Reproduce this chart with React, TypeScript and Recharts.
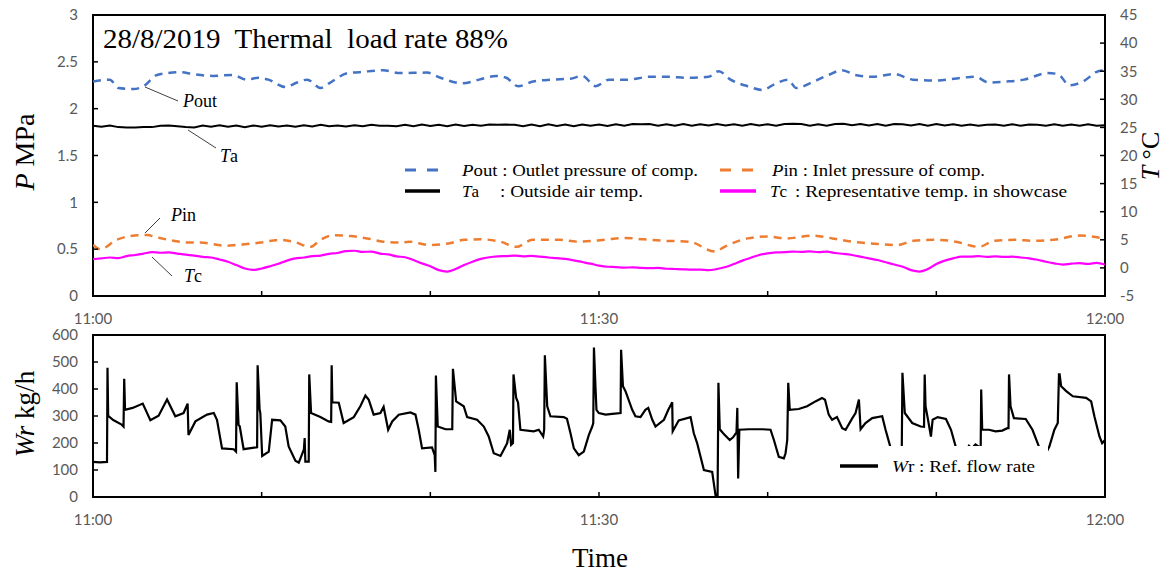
import React from 'react';
import { LineChart, Line, XAxis, YAxis, ReferenceArea, Legend } from 'recharts';

// ---------- ticks ----------
const timeTicks = [0, 10, 20, 30, 40, 50, 60];
const timeLabels: Record<number, string> = { 0: '11:00', 30: '11:30', 60: '12:00' };
const pTicks = [0, 0.5, 1, 1.5, 2, 2.5, 3];
const tTicks = [-5, 0, 5, 10, 15, 20, 25, 30, 35, 40, 45];
const wTicks = [0, 100, 200, 300, 400, 500, 600];

// ---------- series (t = minutes after 11:00) ----------
const poutSeries: [number, number][] = [
  [0, 2.29], [1.0, 2.31], [1.5, 2.22], [2.4, 2.21], [3.0, 2.24], [3.8, 2.36], [5.2, 2.39], [5.9, 2.37],
  [7.1, 2.35], [8.3, 2.36], [9.1, 2.31], [9.8, 2.33], [10.4, 2.31], [11.4, 2.23], [12.1, 2.28], [12.7, 2.31],
  [13.5, 2.22], [14.0, 2.27], [15.1, 2.38], [15.8, 2.39], [17.2, 2.41], [18.2, 2.38], [19.8, 2.385], [20.6, 2.33],
  [21.9, 2.27], [22.9, 2.31], [23.9, 2.35], [24.5, 2.33], [25.2, 2.24], [26.1, 2.29], [27.2, 2.31], [28.3, 2.32],
  [29.0, 2.35], [29.8, 2.24], [30.6, 2.31], [31.7, 2.31], [33.0, 2.34], [34.1, 2.34], [35.2, 2.33], [36.5, 2.34],
  [37.1, 2.40], [37.8, 2.31], [38.8, 2.24], [39.7, 2.20], [40.4, 2.26], [41.2, 2.31], [41.7, 2.22], [42.5, 2.27],
  [43.6, 2.36], [44.4, 2.41], [45.2, 2.36], [46.2, 2.34], [47.5, 2.37], [48.6, 2.31], [50.0, 2.30], [51.5, 2.33],
  [52.3, 2.34], [53.1, 2.28], [54.2, 2.29], [55.2, 2.31], [56.6, 2.38], [57.2, 2.37], [57.9, 2.25], [58.7, 2.29],
  [59.6, 2.40], [60, 2.41],
];

const pinSeries: [number, number][] = [
  [0, 0.545], [0.43, 0.5], [1.41, 0.6], [2.8, 0.65], [3.2, 0.65], [3.79, 0.626], [4.76, 0.59], [5.57, 0.57],
  [6.36, 0.57], [7.9, 0.535], [8.5, 0.545], [9.92, 0.57], [11.1, 0.6], [11.88, 0.58], [12.89, 0.525], [13.5, 0.6],
  [14.25, 0.65], [15.26, 0.64], [16.25, 0.615], [17.2, 0.58], [18.2, 0.57], [18.76, 0.58], [19.89, 0.545],
  [21.07, 0.56], [22.02, 0.6], [22.97, 0.605], [24.16, 0.58], [25.1, 0.525], [26.06, 0.6], [27.6, 0.6],
  [28.8, 0.58], [30.33, 0.6], [31.48, 0.62], [32.64, 0.605], [33.8, 0.59], [35.34, 0.58], [36.89, 0.475],
  [37.44, 0.525], [38.81, 0.615], [39.97, 0.635], [41.12, 0.615], [42.66, 0.645], [43.83, 0.615], [44.98, 0.58],
  [46.16, 0.56], [47.7, 0.545], [48.65, 0.59], [50.02, 0.6], [51.15, 0.58], [52.51, 0.525], [53.46, 0.59],
  [54.64, 0.6], [55.77, 0.59], [56.96, 0.6], [58.5, 0.645], [60, 0.61],
];

const taSeries: [number, number][] = [
  [0, 25.3], [0.5, 25.1], [1, 25.35], [1.5, 25.05], [2, 25.0], [2.5, 25.0], [3, 25.05], [3.5, 25.05], [4, 25.3],
  [4.5, 25.35], [5, 25.2], [5.5, 25.05], [6, 25.0], [6.5, 25.35], [7, 25.1], [7.5, 25.4], [8, 25.1], [8.5, 25.35],
  [9, 25.05], [9.5, 25.35], [10, 25.1], [10.5, 25.4], [11, 25.15], [11.5, 25.35], [12, 25.1], [12.5, 25.4],
  [13, 25.15], [13.5, 25.45], [14, 25.2], [14.5, 25.35], [15, 25.15], [15.5, 25.4], [16, 25.2], [16.5, 25.45],
  [17, 25.3], [17.5, 25.3], [18, 25.2], [18.5, 25.45], [19, 25.2], [19.5, 25.5], [20, 25.25], [20.5, 25.45],
  [21, 25.2], [21.5, 25.5], [22, 25.25], [22.5, 25.45], [23, 25.3], [23.5, 25.5], [24, 25.45], [24.5, 25.5],
  [25, 25.45], [25.5, 25.2], [26, 25.5], [26.5, 25.2], [27, 25.55], [27.5, 25.25], [28, 25.5], [28.5, 25.2],
  [29, 25.5], [29.5, 25.3], [30, 25.5], [30.5, 25.25], [31, 25.55], [31.5, 25.3], [32, 25.6], [32.5, 25.55],
  [33, 25.6], [33.5, 25.3], [34, 25.55], [34.5, 25.3], [35, 25.6], [35.5, 25.3], [36, 25.55], [36.5, 25.35],
  [37, 25.6], [37.5, 25.35], [38, 25.55], [38.5, 25.3], [39, 25.6], [39.5, 25.35], [40, 25.55], [40.5, 25.3],
  [41, 25.6], [41.5, 25.65], [42, 25.6], [42.5, 25.3], [43, 25.55], [43.5, 25.3], [44, 25.6], [44.5, 25.65],
  [45, 25.4], [45.5, 25.6], [46, 25.35], [46.5, 25.6], [47, 25.3], [47.5, 25.6], [48, 25.55], [48.5, 25.35],
  [49, 25.6], [49.5, 25.3], [50, 25.6], [50.5, 25.35], [51, 25.55], [51.5, 25.3], [52, 25.5], [52.5, 25.3],
  [53, 25.45], [53.5, 25.5], [54, 25.3], [54.5, 25.55], [55, 25.3], [55.5, 25.5], [56, 25.45], [56.5, 25.3],
  [57, 25.55], [57.5, 25.3], [58, 25.5], [58.5, 25.3], [59, 25.55], [59.5, 25.3], [60, 25.4],
];

const tcSeries: [number, number][] = [
  [0, 1.55], [0.5, 1.7], [1, 1.85], [1.5, 1.75], [2, 2.1], [2.5, 2.3], [3, 2.55], [3.5, 2.8], [4, 2.7],
  [4.5, 2.75], [5, 2.55], [5.5, 2.35], [6, 2.2], [6.5, 1.95], [7, 1.85], [7.5, 1.5], [8, 1.1], [8.5, 0.5],
  [9, -0.1], [9.5, -0.35], [10, -0.1], [10.5, 0.3], [11, 0.75], [11.5, 1.3], [12, 1.7], [12.5, 1.85], [13, 2.1],
  [13.5, 2.2], [14, 2.5], [14.5, 2.65], [15, 3.0], [15.5, 3.05], [16, 2.85], [16.5, 2.9], [17, 2.55], [17.5, 2.4],
  [18, 2.05], [18.5, 1.9], [19, 1.4], [19.5, 0.8], [20, 0.3], [20.5, -0.4], [21, -0.65], [21.5, -0.2], [22, 0.5],
  [22.5, 1.1], [23, 1.6], [23.5, 1.9], [24, 2.05], [24.5, 2.1], [25, 2.2], [25.5, 2.05], [26, 2.15], [26.5, 2.0],
  [27, 1.85], [27.5, 1.75], [28, 1.6], [28.5, 1.35], [29, 1.05], [29.5, 0.75], [30, 0.4], [30.5, 0.2], [31, 0.15],
  [31.5, 0.05], [32, 0.1], [32.5, 0.0], [33, -0.05], [33.5, 0.0], [34, -0.15], [34.5, -0.2], [35, -0.25],
  [35.5, -0.3], [36, -0.3], [36.5, -0.4], [37, -0.2], [37.5, 0.15], [38, 0.7], [38.5, 1.3], [39, 1.8], [39.5, 2.3],
  [40, 2.6], [40.5, 2.75], [41, 2.8], [41.5, 2.9], [42, 2.85], [42.5, 2.95], [43, 2.8], [43.5, 2.9], [44, 2.65],
  [44.5, 2.5], [45, 2.3], [45.5, 2.0], [46, 1.7], [46.5, 1.4], [47, 1.0], [47.5, 0.6], [48, 0.2], [48.5, -0.4],
  [49, -0.65], [49.5, -0.2], [50, 0.7], [50.5, 1.3], [51, 1.7], [51.5, 2.0], [52, 2.0], [52.5, 2.1], [53, 1.95],
  [53.5, 2.05], [54, 1.95], [54.5, 2.0], [55, 1.85], [55.5, 1.7], [56, 1.45], [56.5, 1.1], [57, 0.8], [57.5, 0.6],
  [58, 0.75], [58.5, 0.85], [59, 0.7], [59.5, 0.9], [60, 0.6],
];

const wrSeries: [number, number][] = [
  [0, 130], [0.4, 128], [0.83, 130], [0.86, 479], [0.9, 301], [1.2, 285], [1.7, 268], [1.81, 261], [1.85, 438],
  [1.9, 323], [2.35, 330], [2.95, 346], [3.4, 284], [3.89, 301], [4.39, 361], [4.88, 299], [5.37, 311], [5.61, 346],
  [5.66, 230], [6.07, 280], [6.76, 305], [7.16, 311], [7.35, 286], [7.65, 180], [8.34, 177], [8.48, 168],
  [8.52, 425], [8.63, 267], [8.7, 262], [8.93, 177], [9.73, 184], [9.76, 488], [9.88, 323], [9.92, 311],
  [10.03, 152], [10.42, 168], [10.62, 286], [11.11, 284], [11.4, 261], [11.6, 187], [12.0, 134], [12.2, 127],
  [12.5, 175], [12.55, 218], [12.59, 131], [12.79, 131], [12.82, 454], [12.93, 311], [13.48, 296], [13.97, 280],
  [14.12, 278], [14.15, 488], [14.19, 351], [14.57, 349], [14.86, 274], [15.46, 296], [15.85, 336], [16.15, 376],
  [16.35, 360], [16.64, 305], [17.04, 311], [17.23, 334], [17.5, 249], [17.74, 280], [18.13, 305], [18.82, 313],
  [19.12, 305], [19.31, 249], [19.51, 180], [20.1, 184], [20.26, 155], [20.3, 93], [20.33, 450], [20.44, 261],
  [20.9, 251], [21.3, 251], [21.34, 475], [21.53, 354], [21.98, 336], [22.18, 296], [22.77, 286], [23.17, 261],
  [23.46, 224], [23.76, 162], [24.16, 152], [24.55, 199], [24.71, 249], [24.79, 193], [24.9, 200], [24.93, 454],
  [25.09, 367], [25.2, 350], [25.34, 249], [26.13, 243], [26.43, 249], [26.69, 224], [26.75, 249], [26.79, 525],
  [26.93, 336], [27.12, 299], [27.91, 296], [28.1, 290], [28.31, 236], [28.51, 180], [28.8, 155], [29.1, 168],
  [29.4, 230], [29.6, 261], [29.66, 274], [29.7, 554], [29.79, 410], [29.85, 323], [29.99, 311], [30.39, 305],
  [30.79, 308], [31.28, 311], [31.31, 545], [31.42, 410], [31.57, 392], [31.97, 323], [32.16, 299], [32.46, 296],
  [32.75, 323], [32.92, 330], [33.16, 286], [33.35, 261], [33.85, 286], [34.11, 323], [34.34, 351], [34.37, 243],
  [34.73, 284], [35.43, 296], [35.62, 236], [35.82, 199], [36.22, 100], [36.71, 93], [36.91, 6], [37.03, 0],
  [37.08, 423], [37.16, 251], [37.36, 236], [37.75, 211], [37.95, 221], [38.15, 239], [38.2, 330], [38.25, 69],
  [38.32, 249], [38.89, 251], [39.68, 251], [40.17, 249], [40.37, 211], [40.66, 149], [40.96, 143], [41.06, 162],
  [41.16, 211], [41.22, 423], [41.31, 323], [41.84, 326], [42.34, 336], [42.83, 354], [43.22, 367], [43.4, 360],
  [43.62, 305], [43.82, 286], [44.11, 296], [44.42, 255], [44.62, 249], [45.02, 292], [45.21, 311], [45.41, 361],
  [45.51, 251], [45.8, 274], [46.2, 292], [46.79, 299], [46.99, 249], [47.28, 184], [47.6, 150], [47.95, 170],
  [47.99, 460], [48.13, 311], [48.57, 274], [49.07, 261], [49.27, 260], [49.31, 454], [49.36, 336], [49.48, 296],
  [49.68, 224], [49.78, 286], [50.08, 296], [50.57, 289], [50.87, 249], [51.16, 184], [51.5, 140], [51.93, 190],
  [52.1, 180], [52.32, 195], [52.63, 182], [52.66, 398], [52.72, 249], [53.12, 249], [53.51, 243], [53.91, 246],
  [54.21, 255], [54.28, 255], [54.31, 454], [54.4, 336], [54.6, 292], [55.3, 289], [55.7, 249], [56.1, 184],
  [56.4, 150], [56.7, 187], [57.0, 249], [57.2, 274], [57.27, 454], [57.31, 454], [57.4, 410], [57.7, 392],
  [58.09, 373], [58.88, 367], [59.18, 354], [59.37, 299], [59.67, 224], [59.83, 199], [60, 211],
];

const toRows = (s: [number, number][]) => s.map(([t, v]) => ({ t, v }));
const poutData = toRows(poutSeries);
const pinData = toRows(pinSeries);
const taData = toRows(taSeries);
const tcData = toRows(tcSeries);
const wrData = toRows(wrSeries);

const SERIF = '"Liberation Serif", "Times New Roman", serif';
const TICK_FONT = { fill: '#595959', fontSize: 15, fontFamily: 'Lato, "Noto Sans", sans-serif' };
const fmtTime = (v: number) => timeLabels[v] ?? '';

const TopLegend = () => (
  <svg width={700} height={50} style={{ display: 'block' }}>
    <g fontFamily={SERIF} fontSize={17} fill="#000">
      <line x1={5} y1={15} x2={40} y2={15} stroke="#4472C4" strokeWidth={3} strokeDasharray="11 11" />
      <text x={62} y={21} textLength={236} lengthAdjust="spacingAndGlyphs">
        <tspan fontStyle="italic">P</tspan>out : Outlet pressure of comp.
      </text>
      <line x1={320} y1={15} x2={356} y2={15} stroke="#ED7D31" strokeWidth={3} strokeDasharray="11 11" />
      <text x={372} y={21} textLength={213} lengthAdjust="spacingAndGlyphs">
        <tspan fontStyle="italic">P</tspan>in : Inlet pressure of comp.
      </text>
      <line x1={5} y1={36} x2={40} y2={36} stroke="#000" strokeWidth={3.5} />
      <text x={62} y={42}>
        <tspan fontStyle="italic">T</tspan>a
      </text>
      <text x={100} y={42} textLength={143} lengthAdjust="spacingAndGlyphs">: Outside air temp.</text>
      <line x1={320} y1={36} x2={356} y2={36} stroke="#FF00FF" strokeWidth={3.5} />
      <text x={370} y={42}>
        <tspan fontStyle="italic">T</tspan>c
      </text>
      <text x={395} y={42} textLength={272} lengthAdjust="spacingAndGlyphs">: Representative temp. in showcase</text>
    </g>
  </svg>
);

const BottomLegend = () => (
  <svg width={218} height={44} style={{ display: 'block' }}>
    <g fontFamily={SERIF} fontSize={17} fill="#000">
      <line x1={10} y1={20} x2={48} y2={20} stroke="#000" strokeWidth={3.5} />
      <text x={62} y={25.5} textLength={143} lengthAdjust="spacingAndGlyphs">
        <tspan fontStyle="italic">W</tspan>r  :  Ref. flow rate
      </text>
    </g>
  </svg>
);

export default function App() {
  return (
    <div style={{ position: 'absolute', left: 0, top: 0, width: 1168, height: 575, background: '#fff' }}>
      <div style={{ position: 'absolute', left: 0, top: 0 }}>
        <LineChart width={1168} height={330} margin={{ top: 15, right: 18, left: 33, bottom: 4 }}>
          <XAxis
            dataKey="t" type="number" domain={[0, 60]} ticks={timeTicks} interval={0}
            tickFormatter={fmtTime} tickSize={-5} tickMargin={22} height={30}
            axisLine={false} tickLine={{ stroke: '#000', strokeWidth: 1.5 }} tick={TICK_FONT} allowDataOverflow
          />
          <YAxis
            yAxisId="p" domain={[0, 3]} ticks={pTicks} interval={0} width={60}
            tickSize={-5} tickMargin={20} axisLine={false}
            tickLine={{ stroke: '#000', strokeWidth: 1.5 }} tick={TICK_FONT} allowDataOverflow
          />
          <YAxis
            yAxisId="t" orientation="right" domain={[-5, 45]} ticks={tTicks} interval={0} width={45}
            tickSize={-5} tickMargin={20} axisLine={false}
            tickLine={{ stroke: '#000', strokeWidth: 1.5 }} tick={TICK_FONT} allowDataOverflow
          />
          <Line yAxisId="t" data={taData} dataKey="v" type="linear" stroke="#000" strokeWidth={2} dot={false} isAnimationActive={false} />
          <Line yAxisId="t" data={tcData} dataKey="v" type="monotone" stroke="#FF00FF" strokeWidth={2.2} dot={false} isAnimationActive={false} />
          <Line yAxisId="p" data={poutData} dataKey="v" type="monotone" stroke="#4472C4" strokeWidth={2.5} strokeDasharray="8 6" dot={false} isAnimationActive={false} />
          <Line yAxisId="p" data={pinData} dataKey="v" type="monotone" stroke="#ED7D31" strokeWidth={2.5} strokeDasharray="8 6" dot={false} isAnimationActive={false} />
          <ReferenceArea yAxisId="p" x1={0} x2={60} y1={0} y2={3} fill="none" stroke="#000" strokeWidth={2} />
          <Legend
            layout="horizontal" verticalAlign="middle" align="center"
            wrapperStyle={{ position: 'absolute', left: 400, top: 155, width: 700, height: 50 }}
            content={() => <TopLegend />}
          />
        </LineChart>
      </div>

      <div style={{ position: 'absolute', left: 0, top: 320 }}>
        <LineChart width={1168} height={255} margin={{ top: 15, right: 63, left: 33, bottom: 48 }}>
          <XAxis
            dataKey="t" type="number" domain={[0, 60]} ticks={timeTicks} interval={0}
            tickFormatter={fmtTime} tickSize={-5} tickMargin={22} height={30}
            axisLine={false} tickLine={{ stroke: '#000', strokeWidth: 1.5 }} tick={TICK_FONT} allowDataOverflow
          />
          <YAxis
            yAxisId="w" domain={[0, 600]} ticks={wTicks} interval={0} width={60}
            tickSize={-5} tickMargin={20} axisLine={false}
            tickLine={{ stroke: '#000', strokeWidth: 1.5 }} tick={TICK_FONT} allowDataOverflow
          />
          <Line yAxisId="w" data={wrData} dataKey="v" type="linear" stroke="#000" strokeWidth={2.2} dot={false} isAnimationActive={false} />
          <ReferenceArea yAxisId="w" x1={0} x2={60} y1={0} y2={600} fill="none" stroke="#000" strokeWidth={2} />
          <Legend
            layout="horizontal" verticalAlign="middle" align="center"
            wrapperStyle={{ position: 'absolute', left: 830, top: 126, width: 218, height: 44, background: '#fff' }}
            content={() => <BottomLegend />}
          />
        </LineChart>
      </div>

      <svg width={1168} height={575} style={{ position: 'absolute', left: 0, top: 0, pointerEvents: 'none' }}>
        <g fontFamily={SERIF} fill="#000">
          <text x={103} y={48} fontSize={28} xmlSpace="preserve" style={{ whiteSpace: 'pre' }} textLength={405} lengthAdjust="spacingAndGlyphs">
            28/8/2019  Thermal  load rate 88%
          </text>

          <text transform="translate(34,152) rotate(-90)" textAnchor="middle" fontSize={28}>
            <tspan fontStyle="italic">P</tspan> MPa
          </text>
          <text transform="translate(1159,156) rotate(-90)" textAnchor="middle" fontSize={26}>
            <tspan fontStyle="italic">T</tspan> °C
          </text>
          <text transform="translate(34,414) rotate(-90)" textAnchor="middle" fontSize={27}>
            <tspan fontStyle="italic">Wr</tspan> kg/h
          </text>
          <text x={600} y={567} textAnchor="middle" fontSize={27}>Time</text>

          <g stroke="#404040" strokeWidth={1}>
            <line x1={145} y1={87} x2={178} y2={101} />
            <line x1={188} y1={130} x2={216} y2={148} />
            <line x1={145} y1={233} x2={160} y2={218} />
            <line x1={152} y1={257} x2={172} y2={276} />
          </g>
          <g fontSize={18}>
            <text x={183} y={107}><tspan fontStyle="italic">P</tspan>out</text>
            <text x={220} y={162}><tspan fontStyle="italic">T</tspan>a</text>
            <text x={171} y={221}><tspan fontStyle="italic">P</tspan>in</text>
            <text x={184} y={282}><tspan fontStyle="italic">T</tspan>c</text>
          </g>
        </g>
      </svg>
    </div>
  );
}
